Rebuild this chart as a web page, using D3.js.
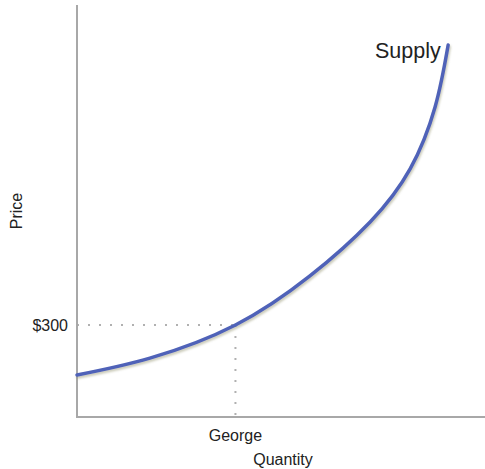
<!DOCTYPE html>
<html>
<head>
<meta charset="utf-8">
<script src="https://cdn.jsdelivr.net/npm/d3@7"></script>
<style>
  body { margin: 0; background: #fff; }
  text { font-family: "Liberation Sans", Arial, Helvetica, sans-serif; fill: #222; }
</style>
</head>
<body>
<div id="chart"></div>
<script>
// supply curve
const quantity = [0, 18.4, 40, 58.8, 74, 84.1, 90.4, 93.7];
const price    = [137, 192, 300, 460, 636, 809, 1011, 1213];

// the marked point
const georgeQty = 40;
const georgePrice = 300;
const priceTick = "$300";
const qtyTick = "George";

const width = 485;
const height = 469;

const svg = d3.select("#chart")
  .append("svg")
  .attr("width", width)
  .attr("height", height);

const xScale = d3.scaleLinear().domain([0, 103]).range([77, 485]);
const yScale = d3.scaleLinear().domain([0, 1350]).range([417, 3]);

// soft shadow under the curve
const defs = svg.append("defs");
const shadow = defs.append("filter").attr("id", "shadow")
  .attr("x", "-10%").attr("y", "-10%").attr("width", "120%").attr("height", "120%");
shadow.append("feDropShadow")
  .attr("dx", 1).attr("dy", 2).attr("stdDeviation", 1.2)
  .attr("flood-color", "#8a8a60").attr("flood-opacity", 0.45);

// dotted guides
svg.append("line")
  .attr("x1", xScale(0)).attr("x2", xScale(georgeQty))
  .attr("y1", yScale(georgePrice)).attr("y2", yScale(georgePrice))
  .attr("stroke", "#b0b0b0").attr("stroke-width", 2)
  .attr("stroke-dasharray", "2 9");
svg.append("line")
  .attr("x1", xScale(georgeQty)).attr("x2", xScale(georgeQty))
  .attr("y1", yScale(georgePrice)).attr("y2", yScale(0))
  .attr("stroke", "#b0b0b0").attr("stroke-width", 2)
  .attr("stroke-dasharray", "2 9");

// axes (plain lines, no ticks)
svg.append("line")
  .attr("x1", xScale(0)).attr("x2", xScale(0))
  .attr("y1", 5).attr("y2", yScale(0))
  .attr("stroke", "#a8a8a8").attr("stroke-width", 2);
svg.append("line")
  .attr("x1", xScale(0) - 1).attr("x2", xScale(103))
  .attr("y1", yScale(0)).attr("y2", yScale(0))
  .attr("stroke", "#a8a8a8").attr("stroke-width", 2);

// curve
const points = quantity.map((q, i) => ({ q, p: price[i] }));
const line = d3.line()
  .x(d => xScale(d.q))
  .y(d => yScale(d.p))
  .curve(d3.curveNatural);

svg.append("path")
  .datum(points)
  .attr("d", line)
  .attr("fill", "none")
  .attr("stroke", "#4f62b8")
  .attr("stroke-width", 3.5)
  .attr("stroke-linecap", "round")
  .attr("filter", "url(#shadow)");

// labels
svg.append("text")
  .text("Supply")
  .attr("x", 375).attr("y", 58)
  .attr("font-size", "21.5px");

svg.append("text")
  .text(priceTick)
  .attr("x", 68).attr("y", yScale(georgePrice) + 6)
  .attr("text-anchor", "end")
  .attr("font-size", "16px");

svg.append("text")
  .text(qtyTick)
  .attr("x", xScale(georgeQty)).attr("y", 441)
  .attr("text-anchor", "middle")
  .attr("font-size", "16px");

svg.append("text")
  .text("Quantity")
  .attr("x", 283).attr("y", 465)
  .attr("text-anchor", "middle")
  .attr("font-size", "16px");

svg.append("text")
  .text("Price")
  .attr("transform", "translate(22,211) rotate(-90)")
  .attr("text-anchor", "middle")
  .attr("font-size", "16px");
</script>
</body>
</html>
